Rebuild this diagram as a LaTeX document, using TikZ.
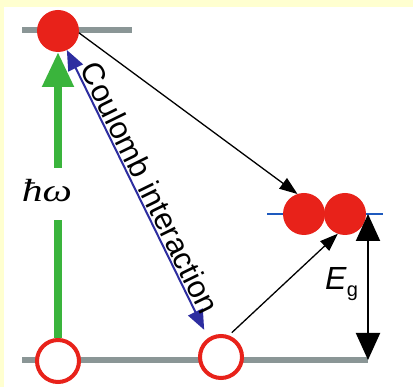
\documentclass[tikz,border=0pt]{standalone}
\usepackage{fontspec}
\newfontfamily\arial{Liberation Sans}
\newfontfamily\timesf{Liberation Serif}
\usetikzlibrary{arrows.meta,calc}
\definecolor{bgyellow}{RGB}{255,255,208}
\definecolor{dotred}{RGB}{232,34,26}
\definecolor{levelgray}{RGB}{138,150,150}
\definecolor{pumpgreen}{RGB}{58,180,60}
\definecolor{coulblue}{RGB}{45,45,160}
\definecolor{exblue}{RGB}{30,90,190}
\tikzset{
  elec/.style={circle, fill=dotred, minimum size=42pt, inner sep=0pt, outer sep=0pt},
  hole/.style={circle, draw=dotred, fill=white, line width=4pt, minimum size=42pt, inner sep=0pt},
  level/.style={levelgray, line width=6pt},
  thinarrow/.style={black, line width=1.3pt, -{Triangle[length=18pt,width=13pt]}},
  bluearrow/.style={coulblue, line width=2pt, {Triangle[length=20pt,width=16pt]}-{Triangle[length=20pt,width=16pt]}},
  greenarrow/.style={pumpgreen, line width=8pt},
  egarrow/.style={black, line width=2pt, {Triangle[length=27pt,width=24pt]}-{Triangle[length=27pt,width=24pt]}},
}
\begin{document}
\begin{tikzpicture}[x=1pt,y=-1pt]
\useasboundingbox (0,0) rectangle (413,387);
\fill[bgyellow] (0,0) rectangle (413,387);
\fill[white] (4,7) rectangle (413,387);
% levels
\coordinate (t1) at (22,30);
\coordinate (t2) at (132,30);
\coordinate (g1) at (22,360);
\coordinate (g2) at (368,360);
\coordinate (b1) at (267,214);
\coordinate (b2) at (383,214);
\coordinate (egtop) at (368,214);
\draw[level] (t1) -- (t2);
\draw[level] (g1) -- (g2);
\draw[exblue, line width=2.5pt] (b1) -- (b2);
% particles
\node[elec] (e1) at (58,31) {};
\node[elec] (x1) at (304,214) {};
\node[elec] (x2) at (345,214) {};
\node[hole] (h1) at (58,361) {};
\node[hole] (h2) at (221,357) {};
% pump arrow with label gap
\coordinate (gapbot) at (58,220);
\coordinate (gaptop) at (58,168);
\draw[greenarrow] (h1.north) -- (gapbot);
\draw[greenarrow, -{Triangle[length=35pt,width=30pt]}] (gaptop) -- (e1.south);
\node[anchor=base, inner sep=0pt, font=\timesf\itshape\fontsize{32}{32}\selectfont] (hw) at (47,202) {\scalebox{1.3}[1]{ħω}};
% arrows
\draw[thinarrow] (e1.-5) -- (x1.108);
\draw[thinarrow, shorten <=4pt] (h2.70) -- (x2.250);
\draw[bluearrow, shorten >=9pt] (e1.-65) -- (h2.124)
  node[midway, above, sloped, inner sep=1.5pt, text=black, font=\arial\fontsize{31}{31}\selectfont] (cl) {Coulomb interaction};
\draw[egarrow] (egtop) -- (g2);
\node[anchor=base west, inner sep=0pt, font=\arial\fontsize{32}{32}\selectfont] (eg) at (325,290) {\textit{E}\raisebox{-7pt}{\fontsize{20}{20}\selectfont g}};
\end{tikzpicture}
\end{document}
